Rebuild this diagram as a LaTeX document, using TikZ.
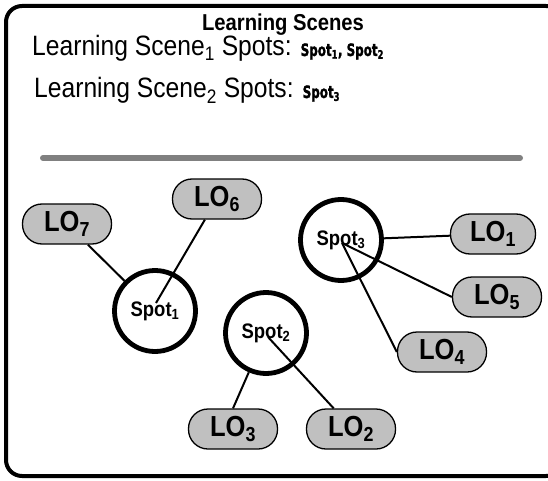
\documentclass[tikz,border=0pt]{standalone}
\usepackage{fontspec}
\setmainfont{Liberation Sans}[FakeStretch=0.88]
\newfontfamily\heavyfont{DejaVu Sans}[FakeStretch=0.7, FakeBold=1.5]
\definecolor{lofill}{RGB}{192,192,192}
\definecolor{rulegray}{RGB}{128,128,128}
\begin{document}
\begin{tikzpicture}[x=1pt,y=-1pt,
  lo/.style={draw=black, line width=1.3pt, fill=lofill, rounded corners=19.5pt,
    minimum width=89pt, minimum height=40pt, inner sep=0pt,
    font=\fontsize{29}{29}\selectfont\bfseries},
  spot/.style={circle, draw=black, line width=4.8pt, minimum size=81pt, inner sep=0pt,
    font=\fontsize{21}{21}\selectfont\bfseries},
  conn/.style={line width=2pt},
  txt/.style={inner sep=0pt}]
\useasboundingbox (0,0) rectangle (548,481);
\clip (0,0) rectangle (548,481);
\draw[line width=4pt, rounded corners=16pt] (6,6) rectangle (562,476);

\node[txt, anchor=base] (title) at (283,31) {\fontsize{23}{23}\selectfont\bfseries Learning Scenes};
\node[txt, anchor=base west] (line2) at (32,56) {\fontsize{28}{28}\selectfont Learning Scene\textsubscript{1} Spots: {\heavyfont\bfseries\fontsize{17}{17}\selectfont Spot\textsubscript{1}, Spot\textsubscript{2}}};
\node[txt, anchor=base west] (line3) at (34,98) {\fontsize{28}{28}\selectfont Learning Scene\textsubscript{2} Spots: {\heavyfont\bfseries\fontsize{17}{17}\selectfont Spot\textsubscript{3}}};
\draw[line width=6pt, line cap=round, rulegray] (43,158) -- (520,158);

\node[spot] (Spot1) at (155,311) {Spot\textsubscript{1}};
\node[spot] (Spot2) at (266,333) {Spot\textsubscript{2}};
\node[spot] (Spot3) at (341,240) {Spot\textsubscript{3}};

\node[lo] (LO7) at (67,224) {LO\textsubscript{7}};
\node[lo] (LO6) at (217,199) {LO\textsubscript{6}};
\node[lo, minimum width=85pt] (LO1) at (493,234) {LO\textsubscript{1}};
\node[lo] (LO5) at (497,297) {LO\textsubscript{5}};
\node[lo] (LO4) at (442,352) {LO\textsubscript{4}};
\node[lo] (LO3) at (233,429) {LO\textsubscript{3}};
\node[lo] (LO2) at (351,429) {LO\textsubscript{2}};

\coordinate (s1c) at (156,303);
\coordinate (s2c) at (268,337);
\coordinate (s3c) at (342,243);

\draw[conn] (LO7) -- (Spot1);
\draw[conn] (LO6) -- (s1c);
\draw[conn] (Spot3) -- (LO1);
\draw[conn] (s3c) -- (LO5.west);
\draw[conn] (s3c) -- (LO4.west);
\draw[conn] (Spot2) -- (LO3.north);
\draw[conn] (s2c) -- (LO2.130);
\end{tikzpicture}
\end{document}
